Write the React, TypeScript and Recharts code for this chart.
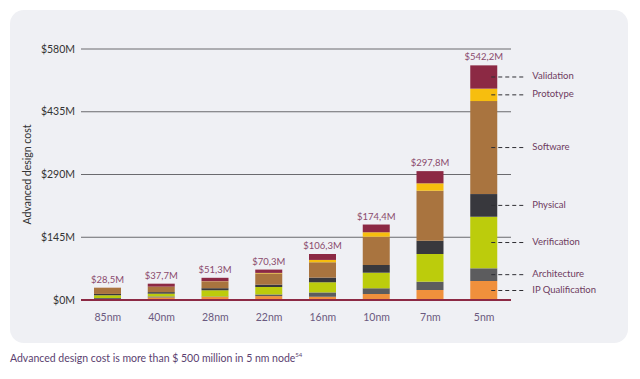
import { Bar, BarChart, CartesianGrid, LabelList, XAxis, YAxis } from 'recharts'

const NODES = ['85nm', '40nm', '28nm', '22nm', '16nm', '10nm', '7nm', '5nm']
const TOTALS = [28.5, 37.7, 51.3, 70.3, 106.3, 174.4, 297.8, 542.2]

const IP_QUALIFICATION = [2, 6, 7, 9, 7.5, 13.9, 23.1, 43.9]
const ARCHITECTURE = [2.5, 2.2, 1, 3.8, 10, 13.2, 19.2, 29.3]
const VERIFICATION = [6.5, 6.5, 14.5, 17.2, 23.5, 36, 64, 119.2]
const PHYSICAL = [3, 3.5, 4.8, 5.4, 10.7, 17.8, 30.7, 52.4]
const SOFTWARE = [14, 12, 15, 26, 35.5, 65.4, 115.5, 214.9]
const PROTOTYPE = [0.2, 0.5, 0.8, 1.2, 5.4, 10.2, 17.1, 28.7]
const VALIDATION = [0.3, 7, 8.2, 7.7, 13.7, 17.9, 28.2, 53.8]

const Y_TICKS = [0, 145, 290, 435, 580]

const SERIES = [
  { key: 'ip', name: 'IP Qualification', values: IP_QUALIFICATION, color: '#F0903C' },
  { key: 'arch', name: 'Architecture', values: ARCHITECTURE, color: '#5C5C5E' },
  { key: 'verif', name: 'Verification', values: VERIFICATION, color: '#BCCC0C' },
  { key: 'phys', name: 'Physical', values: PHYSICAL, color: '#38383D' },
  { key: 'soft', name: 'Software', values: SOFTWARE, color: '#A9743F' },
  { key: 'proto', name: 'Prototype', values: PROTOTYPE, color: '#F7BE0E' },
  { key: 'valid', name: 'Validation', values: VALIDATION, color: '#8C2944' },
]

const data = NODES.map((node, i) => {
  const row: Record<string, number | string> = { node, total: TOTALS[i] }
  SERIES.forEach((s) => {
    row[s.key] = s.values[i]
  })
  return row
})

const FONT = 'Lato, "Open Sans", sans-serif'
const LAST = NODES.length - 1

function fmtMoney(v: number) {
  return `$${String(v).replace('.', ',')}M`
}

function sideLabel(name: string) {
  return (props: any) => {
    const { x, y, width, height, index } = props
    if (index !== LAST) return null
    const cy = Number(y) + Number(height) / 2
    const right = Number(x) + Number(width)
    return (
      <g>
        <line x1={right - 6} y1={cy} x2={right + 26} y2={cy} stroke="#2e2e33" strokeWidth={1} strokeDasharray="4 3" />
        <text x={right + 35} y={cy} dominantBaseline="middle" fill="#6E3B60" fontSize={9.5} fontFamily={FONT}>
          {name}
        </text>
      </g>
    )
  }
}

function totalLabel(props: any) {
  const { x, y, width, index } = props
  return (
    <text
      x={Number(x) + Number(width) / 2}
      y={Number(y) - 5}
      textAnchor="middle"
      fill="#8A4A6C"
      fontSize={9.5}
      fontFamily={FONT}
    >
      {fmtMoney(TOTALS[index])}
    </text>
  )
}

export default function App() {
  return (
    <div style={{ position: 'relative', width: 624, height: 363, fontFamily: FONT }}>
      <div
        style={{
          position: 'absolute',
          left: 2,
          top: 2,
          width: 618,
          height: 333,
          background: '#EFF0F4',
          borderRadius: 14,
        }}
      />
      <div style={{ position: 'absolute', left: 0, top: 0 }}>
        <BarChart
          width={624}
          height={340}
          data={data}
          margin={{ top: 41, right: 121, bottom: 18, left: 13 }}
          barCategoryGap={0}
        >
          <CartesianGrid vertical={false} stroke="#6a6a6e" strokeWidth={1} />
          <XAxis
            dataKey="node"
            axisLine={{ stroke: '#8C2944', strokeWidth: 2 }}
            tickLine={false}
            tick={{ fill: '#6B5A80', fontSize: 10.5, fontFamily: FONT }}
            tickMargin={8}
            height={30}
          />
          <YAxis
            domain={[0, 580]}
            ticks={Y_TICKS}
            width={60}
            axisLine={false}
            tickLine={false}
            tickSize={4}
            tickFormatter={(v) => `$${v}M`}
            tick={{ fill: '#333', fontSize: 10.5, fontFamily: FONT }}
            label={{
              value: 'Advanced design cost',
              angle: -90,
              position: 'insideLeft',
              offset: 0,
              dx: 6,
              style: { fill: '#333', fontSize: 10.5, fontFamily: FONT, textAnchor: 'middle' },
            }}
          />
          {SERIES.map((s) => (
            <Bar key={s.key} dataKey={s.key} name={s.name} stackId="cost" fill={s.color} barSize={27} isAnimationActive={false}>
              <LabelList dataKey={s.key} content={sideLabel(s.name)} />
              {s.key === 'valid' && <LabelList dataKey="total" content={totalLabel} />}
            </Bar>
          ))}
        </BarChart>
      </div>
      <div
        style={{
          position: 'absolute',
          left: 2,
          top: 343,
          fontSize: 10.5,
          color: '#5B3F70',
          whiteSpace: 'nowrap',
        }}
      >
        Advanced design cost is more than $ 500 million in 5 nm node<sup style={{ fontSize: 6 }}>54</sup>
      </div>
    </div>
  )
}
